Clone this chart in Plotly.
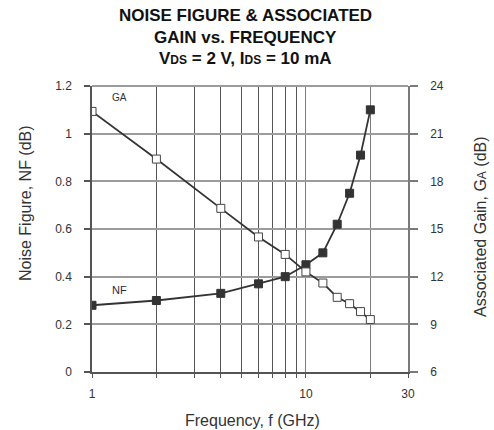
import plotly.graph_objects as go

# Frequency sweep (GHz)
freq_ghz = [1, 2, 4, 6, 8, 10, 12, 14, 16, 18, 20]
# Minimum noise figure (dB), left axis
noise_figure_db = [0.28, 0.30, 0.33, 0.37, 0.40, 0.45, 0.50, 0.62, 0.75, 0.91, 1.10]
# Associated gain (dB), right axis
assoc_gain_db = [22.4, 19.4, 16.3, 14.5, 13.4, 12.3, 11.6, 10.7, 10.3, 9.8, 9.3]

nf_ticks = [0, 0.2, 0.4, 0.6, 0.8, 1, 1.2]
nf_ticktext = ["0", "0.2", "0.4", "0.6", "0.8", "1", "1.2"]
ga_ticks = [6, 9, 12, 15, 18, 21, 24]
freq_ticks = [1, 10, 20, 30]
freq_ticktext = ["1", "10", "", "30"]
freq_minor = [2, 3, 4, 5, 6, 7, 8, 9]

FONT = "Liberation Sans, Arial, sans-serif"
LINE = "#333333"

fig = go.Figure()

fig.add_trace(go.Scatter(
    x=freq_ghz, y=noise_figure_db, mode="lines+markers", yaxis="y",
    line=dict(color=LINE, width=1.8),
    marker=dict(symbol="square", size=8, color="#333333",
                line=dict(color="#333333", width=1)),
    showlegend=False,
))
fig.add_trace(go.Scatter(
    x=freq_ghz, y=assoc_gain_db, mode="lines+markers", yaxis="y2",
    line=dict(color=LINE, width=1.8),
    marker=dict(symbol="square", size=8, color="white",
                line=dict(color="#444444", width=1)),
    showlegend=False,
))

fig.update_layout(
    width=494, height=430,
    margin=dict(l=92, r=86, t=86, b=58),
    paper_bgcolor="white", plot_bgcolor="white",
    font=dict(family=FONT, size=12, color="#333333"),
    xaxis=dict(
        type="log", range=[0, 1.47712], tickvals=freq_ticks, ticktext=freq_ticktext,
        showgrid=True, gridcolor="#7c7c7c", gridwidth=1.4,
        showline=True, linecolor="#555555", linewidth=1.5,
        ticks="outside", ticklen=4, tickcolor="#555555", tickwidth=1.3,
        ticklabelstandoff=6, zeroline=False,
        tickfont=dict(size=12, color="#333333"),
        minor=dict(tickvals=freq_minor, showgrid=True, gridcolor="#555555", gridwidth=1.4,
                   ticks="outside", ticklen=4, tickcolor="#555555", tickwidth=1.3),
    ),
    yaxis=dict(
        range=[0, 1.2], tickvals=nf_ticks, ticktext=nf_ticktext,
        showgrid=True, gridcolor="#9c9c9c", gridwidth=1.8,
        showline=True, linecolor="#555555", linewidth=1.5,
        ticks="outside", ticklen=6, tickcolor="#555555", tickwidth=1.5,
        ticklabelstandoff=10, zeroline=False,
    ),
    yaxis2=dict(
        range=[6, 24], tickvals=ga_ticks, overlaying="y", side="right",
        showgrid=False, showline=True, linecolor="#7a7a7a", linewidth=1.5,
        ticks="outside", ticklen=8, tickcolor="#7a7a7a", tickwidth=1.5,
        ticklabelstandoff=10, zeroline=False,
    ),
)

# Top border of the plotting area
fig.add_shape(type="line", xref="paper", yref="paper", x0=0, x1=1, y0=1, y1=1,
              line=dict(color="#9c9c9c", width=1.8))

title_lines = [
    "NOISE FIGURE &amp; ASSOCIATED",
    "GAIN vs. FREQUENCY",
    "V<span style='font-size:12px'>DS</span> = 2 V, I<span style='font-size:12px'>DS</span> = 10 mA",
]
for i, txt in enumerate(title_lines):
    fig.add_annotation(
        text="<b>" + txt + "</b>", xref="paper", yref="paper",
        x=(245 - 92) / 316, y=1 + (86 - 16 - 21 * i) / 286,
        xanchor="center", yanchor="middle", showarrow=False,
        font=dict(family=FONT, size=17, color="#111111"),
    )

# Axis titles
fig.add_annotation(
    text="Noise Figure, NF (dB)", xref="paper", yref="paper",
    x=(25 - 92) / 316, y=(372 - 203) / 286, textangle=-90,
    xanchor="center", yanchor="middle", showarrow=False,
    font=dict(family=FONT, size=16, color="#333333"),
)
fig.add_annotation(
    text="Associated Gain, G<span style='font-size:12px'>A</span> (dB)", xref="paper", yref="paper",
    x=(480 - 92) / 316, y=(372 - 227) / 286, textangle=-90,
    xanchor="center", yanchor="middle", showarrow=False,
    font=dict(family=FONT, size=16, color="#333333"),
)
fig.add_annotation(
    text="Frequency, f (GHz)", xref="paper", yref="paper",
    x=(252 - 92) / 316, y=(372 - 420) / 286,
    xanchor="center", yanchor="middle", showarrow=False,
    font=dict(family=FONT, size=16, color="#333333"),
)

# Curve labels
fig.add_annotation(text="GA", x=0.13, y=23.3, xref="x", yref="y2",
                   showarrow=False, font=dict(family=FONT, size=10, color="#333333"))
fig.add_annotation(text="NF", x=0.13, y=0.345, xref="x", yref="y",
                   showarrow=False, font=dict(family=FONT, size=11, color="#2a2a3a"))

fig.write_html("out.html")
